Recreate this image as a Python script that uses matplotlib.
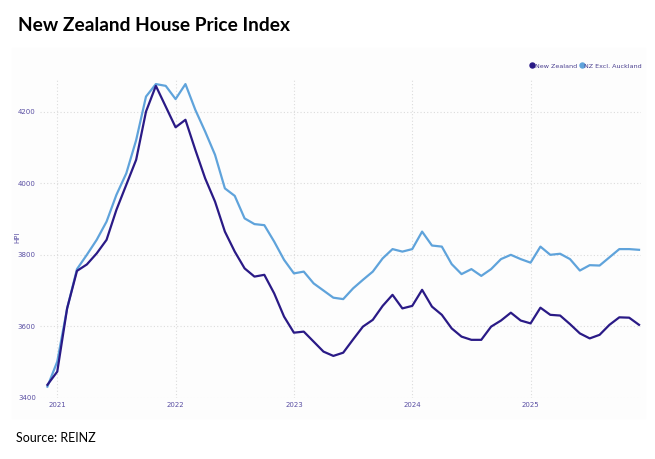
import numpy as np
import pandas as pd
from matplotlib import pyplot as plt
from matplotlib.lines import Line2D
from matplotlib.patches import Rectangle

# monthly HPI, Dec 2020 .. Dec 2025
months = pd.date_range('2020-12-01', '2025-12-01', freq='MS')

nz = [3436,
      3473, 3650, 3755, 3773, 3804, 3842, 3926, 3996, 4066, 4201, 4273, 4215,
      4157, 4178, 4094, 4014, 3949, 3865, 3809, 3762, 3739, 3744, 3692, 3627,
      3582, 3585, 3557, 3529, 3517, 3526, 3563, 3599, 3618, 3657, 3688, 3650,
      3657, 3702, 3655, 3632, 3594, 3571, 3562, 3562, 3599, 3616, 3638, 3616,
      3608, 3652, 3632, 3630, 3606, 3580, 3566, 3576, 3604, 3625, 3624, 3604]

nz_ex_akl = [3431,
             3501, 3650, 3760, 3800, 3842, 3893, 3968, 4028, 4121, 4243, 4278, 4273,
             4236, 4278, 4206, 4145, 4080, 3986, 3965, 3902, 3886, 3883, 3837, 3786,
             3748, 3753, 3720, 3700, 3680, 3676, 3706, 3730, 3753, 3790, 3816, 3809,
             3816, 3865, 3826, 3823, 3774, 3746, 3760, 3741, 3760, 3788, 3800, 3788,
             3778, 3823, 3800, 3803, 3788, 3756, 3771, 3770, 3793, 3816, 3816, 3814]

yticks = [3400, 3600, 3800, 4000, 4200]
years = [2021, 2022, 2023, 2024, 2025]

dark = '#2a1a86'
light = '#5fa3db'
txt = '#5a4fa3'

plt.rcParams['font.family'] = ['Lato', 'DejaVu Sans']

fig = plt.figure(figsize=(6.55, 4.59), dpi=100)
fig.patches.append(Rectangle((12/655, 1-418/459), 633/655, 370/459,
                             transform=fig.transFigure, color='#fdfdfd', zorder=0))

ax = fig.add_axes([40/655, 1-397.7/459, 601/655, 319.7/459])
ax.set_zorder(2)
ax.patch.set_alpha(0)

x = np.arange(len(months)) - 1   # month index, 0 = Jan 2021
ax.plot(x, nz, color=dark, lw=1.6, zorder=3)
ax.plot(x, nz_ex_akl, color=light, lw=1.6, zorder=2)

ax.set_xlim(-1.75, 59.2)
ax.set_ylim(3400, 4295)
ax.set_yticks(yticks)
ax.set_xticks([12*(y-2021) for y in years])
ax.set_xticklabels([str(y) for y in years])
ax.grid(True, color='#dcdcdc', ls=(0, (1, 2)), lw=0.8)
for s in ax.spines.values():
	s.set_visible(False)
ax.tick_params(length=0, labelsize=5, labelcolor=txt, pad=3)
for lab in ax.get_xticklabels() + ax.get_yticklabels():
	lab.set_family('DejaVu Sans')

fig.text(17/655, 1-237/459, 'HPI', rotation=90, ha='center', va='center',
         fontsize=5, color=txt, family='DejaVu Sans')

handles = [Line2D([], [], ls='', marker='o', ms=3.6, color=dark),
           Line2D([], [], ls='', marker='o', ms=3.6, color=light)]
fig.legend(handles, ['New Zealand', 'NZ Excl. Auckland'], loc='center right',
           bbox_to_anchor=(642/655, 1-66/459), ncol=2, frameon=False,
           prop={'family': 'DejaVu Sans', 'size': 4.6}, labelcolor='#4a3f8f',
           handletextpad=0.05, columnspacing=0.4, handlelength=0.7,
           borderpad=0, borderaxespad=0)

fig.text(18/655, 1-31/459, 'New Zealand House Price Index', fontsize=13.8,
         fontweight='bold', color='black', ha='left', va='baseline')
fig.text(16/655, 1-442/459, 'Source: REINZ', fontsize=9, color='black',
         ha='left', va='baseline')

fig.savefig('out.png', dpi=100)
